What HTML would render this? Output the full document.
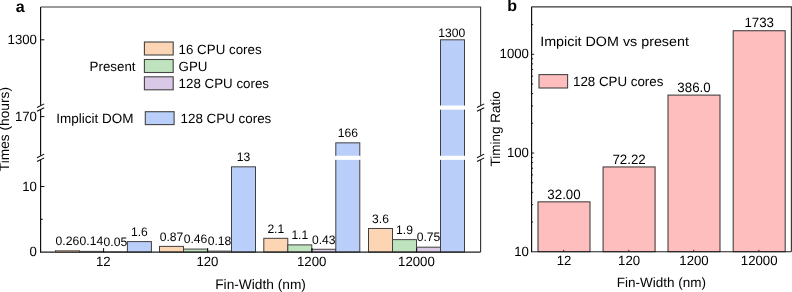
<!DOCTYPE html>
<html><head><meta charset="utf-8"><title>chart</title>
<style>html,body{margin:0;padding:0;background:#fff;}svg{display:block;text-rendering:geometricPrecision;will-change:transform;}</style></head>
<body>
<svg width="792" height="292" viewBox="0 0 792 292" font-family="'Liberation Sans', sans-serif" font-size="13.5" fill="#000">
<rect width="792" height="292" fill="#fff"/>
<rect x="55.40" y="250.39" width="24.00" height="1.71" fill="#FBD5B4" stroke="#404040" stroke-width="0.6"/>
<rect x="79.40" y="251.18" width="24.00" height="0.92" fill="#BFE3BF" stroke="#404040" stroke-width="0.6"/>
<rect x="103.40" y="251.77" width="24.00" height="0.33" fill="#DAC9E6" stroke="#404040" stroke-width="0.6"/>
<rect x="127.40" y="241.60" width="24.00" height="10.50" fill="#B9CEF8" stroke="#404040" stroke-width="1.0"/>
<rect x="159.50" y="246.39" width="24.00" height="5.71" fill="#FBD5B4" stroke="#404040" stroke-width="1.0"/>
<rect x="183.50" y="249.08" width="24.00" height="3.02" fill="#BFE3BF" stroke="#404040" stroke-width="1.0"/>
<rect x="207.50" y="250.92" width="24.00" height="1.18" fill="#DAC9E6" stroke="#404040" stroke-width="0.6"/>
<rect x="231.50" y="166.82" width="24.00" height="85.28" fill="#B9CEF8" stroke="#404040" stroke-width="1.0"/>
<rect x="263.80" y="238.32" width="24.00" height="13.78" fill="#FBD5B4" stroke="#404040" stroke-width="1.0"/>
<rect x="287.80" y="244.88" width="24.00" height="7.22" fill="#BFE3BF" stroke="#404040" stroke-width="1.0"/>
<rect x="311.80" y="249.28" width="24.00" height="2.82" fill="#DAC9E6" stroke="#404040" stroke-width="1.0"/>
<rect x="335.80" y="142.84" width="24.00" height="109.26" fill="#B9CEF8" stroke="#404040" stroke-width="1.0"/>
<rect x="334.80" y="155.75" width="26.00" height="4.1" fill="#fff"/>
<rect x="368.50" y="228.48" width="24.00" height="23.62" fill="#FBD5B4" stroke="#404040" stroke-width="1.0"/>
<rect x="392.50" y="239.64" width="24.00" height="12.46" fill="#BFE3BF" stroke="#404040" stroke-width="1.0"/>
<rect x="416.50" y="247.18" width="24.00" height="4.92" fill="#DAC9E6" stroke="#404040" stroke-width="1.0"/>
<rect x="440.50" y="39.80" width="24.00" height="212.30" fill="#B9CEF8" stroke="#404040" stroke-width="1.0"/>
<rect x="439.50" y="105.55" width="26.00" height="4.1" fill="#fff"/>
<rect x="439.50" y="155.75" width="26.00" height="4.1" fill="#fff"/>
<text transform="translate(67.40 244.69) scale(0.985 1)" font-size="12.3" text-anchor="middle">0.26</text>
<text transform="translate(91.40 245.48) scale(0.985 1)" font-size="12.3" text-anchor="middle">0.14</text>
<text transform="translate(115.40 246.07) scale(0.985 1)" font-size="12.3" text-anchor="middle">0.05</text>
<text transform="translate(139.40 235.90) scale(0.985 1)" font-size="12.3" text-anchor="middle">1.6</text>
<text transform="translate(171.50 240.69) scale(0.985 1)" font-size="12.3" text-anchor="middle">0.87</text>
<text transform="translate(195.50 243.38) scale(0.985 1)" font-size="12.3" text-anchor="middle">0.46</text>
<text transform="translate(219.50 245.22) scale(0.985 1)" font-size="12.3" text-anchor="middle">0.18</text>
<text transform="translate(243.50 161.12) scale(0.985 1)" font-size="12.3" text-anchor="middle">13</text>
<text transform="translate(275.80 232.62) scale(0.985 1)" font-size="12.3" text-anchor="middle">2.1</text>
<text transform="translate(299.80 239.18) scale(0.985 1)" font-size="12.3" text-anchor="middle">1.1</text>
<text transform="translate(323.80 243.58) scale(0.985 1)" font-size="12.3" text-anchor="middle">0.43</text>
<text transform="translate(347.80 137.14) scale(0.985 1)" font-size="12.3" text-anchor="middle">166</text>
<text transform="translate(380.50 222.78) scale(0.985 1)" font-size="12.3" text-anchor="middle">3.6</text>
<text transform="translate(404.50 233.94) scale(0.985 1)" font-size="12.3" text-anchor="middle">1.9</text>
<text transform="translate(428.50 241.48) scale(0.985 1)" font-size="12.3" text-anchor="middle">0.75</text>
<text transform="translate(451.70 36.80) scale(0.985 1)" font-size="12.3" text-anchor="middle">1300</text>
<path d="M40.60 7.00 V252.65" fill="none" stroke="#0a0a0a" stroke-width="1.15"/>
<path d="M40.60 252.10 H480.60" fill="none" stroke="#1c1c1c" stroke-width="1.05"/>
<path d="M40.60 7.00 H480.60 V252.10" fill="none" stroke="#383838" stroke-width="1.15"/>
<rect x="39.10" y="105.50" width="3" height="4.2" fill="#fff"/>
<path d="M37.00 107.50 L44.20 103.90" stroke="#0a0a0a" stroke-width="1.05"/>
<path d="M37.00 111.30 L44.20 107.70" stroke="#0a0a0a" stroke-width="1.05"/>
<rect x="39.10" y="155.70" width="3" height="4.2" fill="#fff"/>
<path d="M37.00 157.70 L44.20 154.10" stroke="#0a0a0a" stroke-width="1.05"/>
<path d="M37.00 161.50 L44.20 157.90" stroke="#0a0a0a" stroke-width="1.05"/>
<rect x="479.10" y="105.50" width="3" height="4.2" fill="#fff"/>
<path d="M477.00 107.50 L484.20 103.90" stroke="#0a0a0a" stroke-width="1.05"/>
<path d="M477.00 111.30 L484.20 107.70" stroke="#0a0a0a" stroke-width="1.05"/>
<rect x="479.10" y="155.70" width="3" height="4.2" fill="#fff"/>
<path d="M477.00 157.70 L484.20 154.10" stroke="#0a0a0a" stroke-width="1.05"/>
<path d="M477.00 161.50 L484.20 157.90" stroke="#0a0a0a" stroke-width="1.05"/>
<path d="M40.60 39.80 h3.8" stroke="#0a0a0a" stroke-width="1"/>
<text transform="translate(36.90 43.80) scale(0.985 1)" font-size="13.4" text-anchor="end">1300</text>
<path d="M40.60 116.60 h3.8" stroke="#0a0a0a" stroke-width="1"/>
<text transform="translate(36.90 120.60) scale(0.985 1)" font-size="13.4" text-anchor="end">170</text>
<path d="M40.60 186.50 h3.8" stroke="#0a0a0a" stroke-width="1"/>
<text transform="translate(36.90 190.50) scale(0.985 1)" font-size="13.4" text-anchor="end">10</text>
<text transform="translate(36.90 256.10) scale(0.985 1)" font-size="13.4" text-anchor="end">0</text>
<path d="M40.60 219.30 h2.2" stroke="#0a0a0a" stroke-width="1"/>
<path d="M103.60 252.10 v-4" stroke="#0a0a0a" stroke-width="1"/>
<text transform="translate(103.30 266.10) scale(0.985 1)" font-size="13.4" text-anchor="middle">12</text>
<path d="M207.70 252.10 v-4" stroke="#0a0a0a" stroke-width="1"/>
<text transform="translate(207.40 266.10) scale(0.985 1)" font-size="13.4" text-anchor="middle">120</text>
<path d="M312.00 252.10 v-4" stroke="#0a0a0a" stroke-width="1"/>
<text transform="translate(311.70 266.10) scale(0.985 1)" font-size="13.4" text-anchor="middle">1200</text>
<path d="M416.70 252.10 v-4" stroke="#0a0a0a" stroke-width="1"/>
<text transform="translate(416.40 266.10) scale(0.985 1)" font-size="13.4" text-anchor="middle">12000</text>
<text x="260.60" y="289.00" font-size="13.73" text-anchor="middle">Fin-Width (nm)</text>
<text transform="translate(9.3 129.1) rotate(-90)" font-size="13.73" text-anchor="middle">Times (hours)</text>
<text x="15.70" y="11.60" font-size="16.0" text-anchor="start" font-weight="bold">a</text>
<rect x="144.4" y="42.00" width="28.8" height="13.0" fill="#FBD5B4" stroke="#444" stroke-width="1.1"/>
<text x="178.60" y="54.10" font-size="13.33" text-anchor="start">16 CPU cores</text>
<rect x="144.4" y="59.50" width="28.8" height="13.0" fill="#BFE3BF" stroke="#444" stroke-width="1.1"/>
<text x="178.60" y="71.00" font-size="13.33" text-anchor="start">GPU</text>
<rect x="144.4" y="76.80" width="28.8" height="13.0" fill="#DAC9E6" stroke="#444" stroke-width="1.1"/>
<text x="178.60" y="88.30" font-size="13.33" text-anchor="start">128 CPU cores</text>
<text x="89.60" y="70.50" font-size="13.33" text-anchor="start">Present</text>
<rect x="145.3" y="111.7" width="28.8" height="12.9" fill="#B9CEF8" stroke="#444" stroke-width="1.1"/>
<text x="180.50" y="123.40" font-size="13.4" text-anchor="start">128 CPU cores</text>
<text x="56.20" y="122.70" font-size="13.5" text-anchor="start">Implicit DOM</text>
<rect x="538.00" y="201.84" width="52" height="49.86" fill="#FFBEBE" stroke="#3a3a3a" stroke-width="1.05"/>
<text transform="translate(564.00 198.84) scale(0.985 1)" font-size="13.5" text-anchor="middle">32.00</text>
<rect x="603.10" y="166.95" width="52" height="84.75" fill="#FFBEBE" stroke="#3a3a3a" stroke-width="1.05"/>
<text transform="translate(629.10 163.95) scale(0.985 1)" font-size="13.5" text-anchor="middle">72.22</text>
<rect x="668.00" y="95.10" width="52" height="156.60" fill="#FFBEBE" stroke="#3a3a3a" stroke-width="1.05"/>
<text transform="translate(694.00 92.10) scale(0.985 1)" font-size="13.5" text-anchor="middle">386.0</text>
<rect x="733.20" y="30.73" width="52" height="220.97" fill="#FFBEBE" stroke="#3a3a3a" stroke-width="1.05"/>
<text transform="translate(759.20 26.73) scale(0.985 1)" font-size="13.5" text-anchor="middle">1733</text>
<path d="M531.60 6.80 V252.25" fill="none" stroke="#0a0a0a" stroke-width="1.15"/>
<path d="M531.60 251.70 H791.40" fill="none" stroke="#1c1c1c" stroke-width="1.05"/>
<path d="M531.60 6.80 H791.40 V251.70" fill="none" stroke="#383838" stroke-width="1.15"/>
<path d="M531.60 221.99 h1.5" stroke="#0a0a0a" stroke-width="0.9"/>
<path d="M531.60 204.61 h1.5" stroke="#0a0a0a" stroke-width="0.9"/>
<path d="M531.60 192.28 h1.5" stroke="#0a0a0a" stroke-width="0.9"/>
<path d="M531.60 182.71 h1.5" stroke="#0a0a0a" stroke-width="0.9"/>
<path d="M531.60 174.90 h1.5" stroke="#0a0a0a" stroke-width="0.9"/>
<path d="M531.60 168.29 h1.5" stroke="#0a0a0a" stroke-width="0.9"/>
<path d="M531.60 162.57 h1.5" stroke="#0a0a0a" stroke-width="0.9"/>
<path d="M531.60 157.52 h1.5" stroke="#0a0a0a" stroke-width="0.9"/>
<path d="M531.60 153.00 h2.6" stroke="#0a0a0a" stroke-width="0.9"/>
<path d="M531.60 123.29 h1.5" stroke="#0a0a0a" stroke-width="0.9"/>
<path d="M531.60 105.91 h1.5" stroke="#0a0a0a" stroke-width="0.9"/>
<path d="M531.60 93.58 h1.5" stroke="#0a0a0a" stroke-width="0.9"/>
<path d="M531.60 84.01 h1.5" stroke="#0a0a0a" stroke-width="0.9"/>
<path d="M531.60 76.20 h1.5" stroke="#0a0a0a" stroke-width="0.9"/>
<path d="M531.60 69.59 h1.5" stroke="#0a0a0a" stroke-width="0.9"/>
<path d="M531.60 63.87 h1.5" stroke="#0a0a0a" stroke-width="0.9"/>
<path d="M531.60 58.82 h1.5" stroke="#0a0a0a" stroke-width="0.9"/>
<path d="M531.60 54.30 h2.6" stroke="#0a0a0a" stroke-width="0.9"/>
<path d="M531.60 24.59 h1.5" stroke="#0a0a0a" stroke-width="0.9"/>
<text transform="translate(528.90 255.70) scale(0.985 1)" font-size="13.4" text-anchor="end">10</text>
<text transform="translate(528.90 157.00) scale(0.985 1)" font-size="13.4" text-anchor="end">100</text>
<text transform="translate(528.90 58.30) scale(0.985 1)" font-size="13.4" text-anchor="end">1000</text>
<path d="M563.70 251.70 v-1.9" stroke="#402020" stroke-width="1"/>
<text transform="translate(564.00 264.50) scale(0.985 1)" font-size="13.4" text-anchor="middle">12</text>
<path d="M628.80 251.70 v-1.9" stroke="#402020" stroke-width="1"/>
<text transform="translate(629.10 264.50) scale(0.985 1)" font-size="13.4" text-anchor="middle">120</text>
<path d="M693.70 251.70 v-1.9" stroke="#402020" stroke-width="1"/>
<text transform="translate(694.00 264.50) scale(0.985 1)" font-size="13.4" text-anchor="middle">1200</text>
<path d="M758.90 251.70 v-1.9" stroke="#402020" stroke-width="1"/>
<text transform="translate(759.20 264.50) scale(0.985 1)" font-size="13.4" text-anchor="middle">12000</text>
<text x="661.40" y="287.00" font-size="13.5" text-anchor="middle">Fin-Width (nm)</text>
<text transform="translate(500.3 128.8) rotate(-90)" text-anchor="middle">Timing Ratio</text>
<text x="507.30" y="11.30" font-size="16.0" text-anchor="start" font-weight="bold">b</text>
<text transform="translate(540.20 45.80) scale(1.06 1)" font-size="13.5" text-anchor="start">Impicit DOM vs present</text>
<rect x="539.0" y="74.6" width="28.6" height="13.4" fill="#FFBEBE" stroke="#444" stroke-width="1.1"/>
<text x="573.00" y="85.70" font-size="13.33" text-anchor="start">128 CPU cores</text>
</svg>
</body></html>
